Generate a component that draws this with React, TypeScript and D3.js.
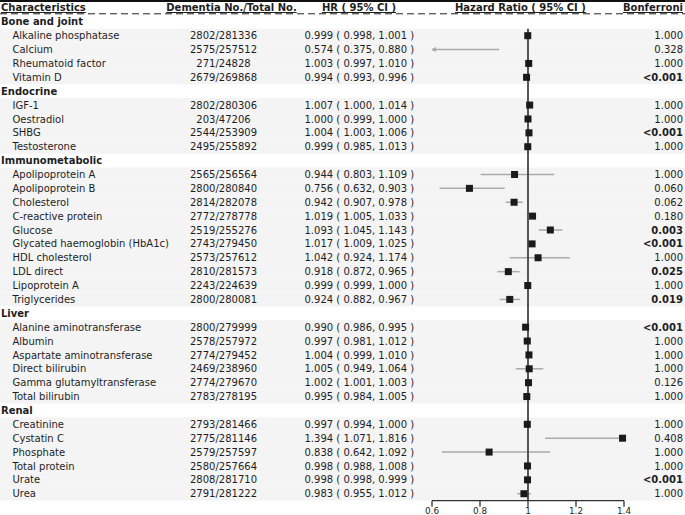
import React from "react";
import * as d3 from "d3";

const groupNames = ["Bone and joint", "Endocrine", "Immunometabolic", "Liver", "Renal"];
const groupSizes = [4, 4, 10, 6, 6];
const labels = [
  "Alkaline phosphatase", "Calcium", "Rheumatoid factor", "Vitamin D",
  "IGF-1", "Oestradiol", "SHBG", "Testosterone",
  "Apolipoprotein A", "Apolipoprotein B", "Cholesterol", "C-reactive protein", "Glucose",
  "Glycated haemoglobin (HbA1c)", "HDL cholesterol", "LDL direct", "Lipoprotein A", "Triglycerides",
  "Alanine aminotransferase", "Albumin", "Aspartate aminotransferase", "Direct bilirubin",
  "Gamma glutamyltransferase", "Total bilirubin",
  "Creatinine", "Cystatin C", "Phosphate", "Total protein", "Urate", "Urea",
];
const counts = [
  "2802/281336", "2575/257512", "271/24828", "2679/269868",
  "2802/280306", "203/47206", "2544/253909", "2495/255892",
  "2565/256564", "2800/280840", "2814/282078", "2772/278778", "2519/255276",
  "2743/279450", "2573/257612", "2810/281573", "2243/224639", "2800/280081",
  "2800/279999", "2578/257972", "2774/279452", "2469/238960", "2774/279670", "2783/278195",
  "2793/281466", "2775/281146", "2579/257597", "2580/257664", "2808/281710", "2791/281222",
];
const hr = [
  0.999, 0.574, 1.003, 0.994,
  1.007, 1.0, 1.004, 0.999,
  0.944, 0.756, 0.942, 1.019, 1.093, 1.017, 1.042, 0.918, 0.999, 0.924,
  0.99, 0.997, 1.004, 1.005, 1.002, 0.995,
  0.997, 1.394, 0.838, 0.998, 0.998, 0.983,
];
const lower = [
  0.998, 0.375, 0.997, 0.993,
  1.0, 0.999, 1.003, 0.985,
  0.803, 0.632, 0.907, 1.005, 1.045, 1.009, 0.924, 0.872, 0.999, 0.882,
  0.986, 0.981, 0.999, 0.949, 1.001, 0.984,
  0.994, 1.071, 0.642, 0.988, 0.998, 0.955,
];
const upper = [
  1.001, 0.88, 1.01, 0.996,
  1.014, 1.0, 1.006, 1.013,
  1.109, 0.903, 0.978, 1.033, 1.143, 1.025, 1.174, 0.965, 1.0, 0.967,
  0.995, 1.012, 1.01, 1.064, 1.003, 1.005,
  1.0, 1.816, 1.092, 1.008, 0.999, 1.012,
];
const bonferroni = [
  "1.000", "0.328", "1.000", "<0.001",
  "1.000", "1.000", "<0.001", "1.000",
  "1.000", "0.060", "0.062", "0.180", "0.003", "<0.001", "1.000", "0.025", "1.000", "0.019",
  "<0.001", "1.000", "1.000", "1.000", "0.126", "1.000",
  "1.000", "0.408", "1.000", "1.000", "<0.001", "1.000",
];
const xTicks = [0.6, 0.8, 1, 1.2, 1.4];
const headers = ["Characteristics", "Dementia No./Total No.", "HR ( 95% CI )", "Hazard Ratio ( 95% CI )", "Bonferroni"];

type Row =
  | { kind: "group"; name: string }
  | { kind: "item"; i: number };

const rows: Row[] = [];
{
  let k = 0;
  groupNames.forEach((g, gi) => {
    rows.push({ kind: "group", name: g });
    for (let j = 0; j < groupSizes[gi]; j++) rows.push({ kind: "item", i: k++ });
  });
}

const W = 685;
const H = 515;
const FONT = "'DejaVu Sans', Verdana, sans-serif";
const TXT = "#1e1e1e";

export default function App() {
  const rowH = 13.88;
  const firstCenter = 21.8;
  const y = (r: number) => firstCenter + r * rowH;
  const bodyBottom = y(rows.length - 1) + rowH / 2;
  const x = d3.scaleLinear().domain([0.6, 1.4]).range([432, 624]);
  const fmt = d3.format(".3f");
  const box = 7;

  const headerX = [1, 231.5, 359, 455, 683];
  const headerAnchor = ["start", "middle", "middle", "start", "end"];

  return (
    <svg width={W} height={H} style={{ position: "absolute", left: 0, top: 0 }} fontFamily={FONT}>
      <rect x={0} y={0} width={W} height={H} fill="#fff" />
      {rows.map((r, ri) =>
        r.kind === "item" ? (
          <rect key={"bg" + ri} x={0} y={y(ri) - rowH / 2} width={W} height={rowH} fill="#f4f4f4" />
        ) : null
      )}
      <line x1={0} x2={W} y1={1} y2={1} stroke="#111" strokeWidth={2} />
      <line x1={0} x2={W} y1={13.8} y2={13.8} stroke="#222" strokeWidth={1} strokeDasharray="7,4" />
      {headers.map((h, hi) => (
        <text
          key={h}
          x={headerX[hi]}
          y={11}
          fontSize={10}
          fontWeight="bold"
          fill={TXT}
          textAnchor={headerAnchor[hi] as any}
          style={{ textDecoration: "underline" }}
        >
          {h}
        </text>
      ))}
      {rows.map((r, ri) => {
        const cy = y(ri) + 3.6;
        if (r.kind === "group") {
          return (
            <text key={"g" + ri} x={1} y={cy} fontSize={10} fontWeight="bold" fill={TXT}>
              {r.name}
            </text>
          );
        }
        const i = r.i;
        const bold = bonferroni[i] === "<0.001" || parseFloat(bonferroni[i]) < 0.05;
        return (
          <g key={"t" + ri} fontSize={10} fill={TXT}>
            <text x={12.5} y={cy}>{labels[i]}</text>
            <text x={223.5} y={cy} textAnchor="middle">{counts[i]}</text>
            <text x={304.5} y={cy}>{`${fmt(hr[i])} ( ${fmt(lower[i])}, ${fmt(upper[i])} )`}</text>
            <text x={683} y={cy} textAnchor="end" fontWeight={bold ? "bold" : "normal"}>
              {bonferroni[i]}
            </text>
          </g>
        );
      })}
      {rows.map((r, ri) => {
        if (r.kind !== "item") return null;
        const i = r.i;
        const [d0, d1] = x.domain();
        const lo = Math.max(lower[i], d0);
        const hi = Math.min(upper[i], d1);
        const cy = y(ri);
        const x0 = x(lo);
        const x1 = x(hi);
        return (
          <g key={"ci" + ri} stroke="#aaaaaa" strokeWidth={1.5} fill="none">
            <line x1={x0} x2={x1} y1={cy} y2={cy} />
            {lower[i] < d0 && (
              <path d={`M${x0 + 4},${cy - 2} L${x0},${cy} L${x0 + 4},${cy + 2}`} fill="#aaaaaa" strokeWidth={1} />
            )}
            {upper[i] > d1 && (
              <path d={`M${x1 - 4},${cy - 2} L${x1},${cy} L${x1 - 4},${cy + 2}`} fill="#aaaaaa" strokeWidth={1} />
            )}
          </g>
        );
      })}
      <line x1={x(1)} x2={x(1)} y1={y(1) - rowH / 2} y2={bodyBottom} stroke="#444" strokeWidth={1.8} />
      {rows.map((r, ri) => {
        if (r.kind !== "item") return null;
        const i = r.i;
        const [d0, d1] = x.domain();
        if (hr[i] < d0 || hr[i] > d1) return null;
        return (
          <rect
            key={"b" + ri}
            x={x(hr[i]) - box / 2}
            y={y(ri) - box / 2}
            width={box}
            height={box}
            fill="#1a1a1a"
          />
        );
      })}
      <g>
        <line x1={x(0.6)} x2={x(1.4)} y1={bodyBottom} y2={bodyBottom} stroke="#333" strokeWidth={1.3} />
        {xTicks.map((t) => (
          <g key={t}>
            <line x1={x(t)} x2={x(t)} y1={bodyBottom} y2={bodyBottom + 6} stroke="#333" strokeWidth={1.3} />
            <text x={x(t)} y={514} fontSize={8.8} textAnchor="middle" fill={TXT}>
              {String(t)}
            </text>
          </g>
        ))}
      </g>
    </svg>
  );
}
